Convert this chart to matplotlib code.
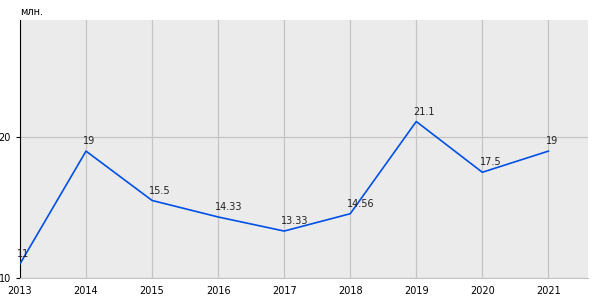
import matplotlib.pyplot as plt

years = [2013, 2014, 2015, 2016, 2017, 2018, 2019, 2020, 2021]
values = [11, 19, 15.5, 14.33, 13.33, 14.56, 21.1, 17.5, 19]
labels = ['11', '19', '15.5', '14.33', '13.33', '14.56', '21.1', '17.5', '19']

fig = plt.figure(figsize=(6, 3), dpi=100)
ax = fig.add_axes([0.0333, 0.0733, 0.9467, 0.86])
ax.set_facecolor('#ebebeb')

ax.plot(years, values, color='#0050e6', linewidth=1.2, zorder=3)
for x, y, t in zip(years, values, labels):
    ax.annotate(t, (x, y), xytext=(-2, 3.5), textcoords='offset points',
                ha='left', va='bottom', fontsize=7, color='#222222', zorder=4)

ax.set_xlim(2013, 2021.6)
ax.set_ylim(10, 28.3)
ax.set_xticks(years)
ax.set_yticks([10, 20])
ax.grid(True, color='#c4c4c4', linewidth=0.9)
ax.set_axisbelow(True)
ax.tick_params(labelsize=7, length=3, width=0.8, colors='black')
ax.tick_params(axis='x', length=0, pad=6)

for s in ['top', 'right']:
    ax.spines[s].set_visible(False)
ax.spines['bottom'].set_color('#c4c4c4')
ax.spines['left'].set_color('black')

fig.text(0.0333, 0.943, 'млн.', fontsize=7, ha='left', va='bottom')

plt.savefig('out.png', dpi=100)
